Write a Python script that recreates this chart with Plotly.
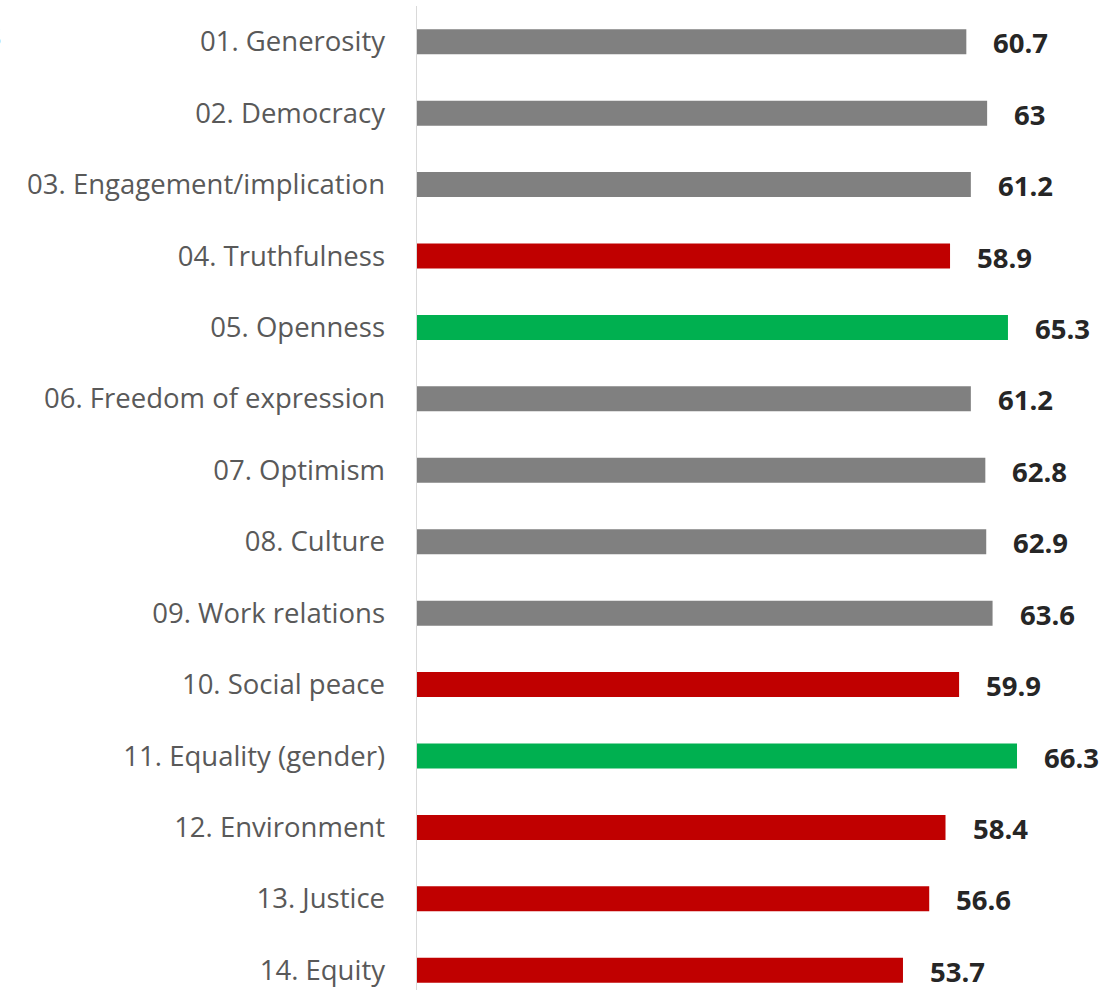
import plotly.graph_objects as go

categories = [
    "01. Generosity", "02. Democracy", "03. Engagement/implication",
    "04. Truthfulness", "05. Openness", "06. Freedom of expression",
    "07. Optimism", "08. Culture", "09. Work relations", "10. Social peace",
    "11. Equality (gender)", "12. Environment", "13. Justice", "14. Equity",
]
values = [60.7, 63, 61.2, 58.9, 65.3, 61.2, 62.8, 62.9, 63.6, 59.9, 66.3, 58.4, 56.6, 53.7]
status = ["mid", "mid", "mid", "low", "high", "mid", "mid", "mid", "mid", "low",
          "high", "low", "low", "low"]

color_map = {"mid": "#808080", "low": "#C00000", "high": "#00B050"}
colors = [color_map[s] for s in status]

FONT = "Open Sans"

fig = go.Figure()
fig.add_trace(go.Bar(
    x=values, y=categories, orientation="h",
    marker=dict(color=colors, line=dict(width=0)),
    width=0.35, hoverinfo="skip",
))

for c, v in zip(categories, values):
    fig.add_annotation(
        x=v, y=c, xref="x", yref="y",
        text=f"<b>{v:g}</b>", showarrow=False,
        xanchor="left", yanchor="middle", xshift=25, yshift=-1,
        font=dict(family=FONT, size=27.5, color="#262626"),
    )

# cut-off text fragment at the top-left edge
fig.add_annotation(
    x=-0.5895, y=0.9695, xref="paper", yref="paper",
    text="S", showarrow=False, xanchor="right", yanchor="middle",
    font=dict(family=FONT, size=26, color="#404040"),
)

fig.update_layout(
    width=1119, height=990,
    margin=dict(l=417, r=0, t=6, b=0, pad=0),
    paper_bgcolor="white", plot_bgcolor="white",
    showlegend=False,
    bargap=0.65,
)
fig.update_xaxes(
    range=[0, 77.57], showgrid=False, zeroline=False,
    showticklabels=False, ticks="", showline=False,
)
fig.update_yaxes(
    type="category", categoryorder="array", categoryarray=categories,
    range=[13.276, -0.5], showgrid=False, zeroline=False,
    showline=True, linecolor="#D9D9D9", linewidth=1.5,
    ticks="", ticklabelstandoff=25,
    tickfont=dict(family=FONT, size=27.5, color="#595959"),
)

fig.write_html(
    "out.html",
    config={"displayModeBar": False, "staticPlot": True},
    post_script="document.body.style.margin='0';document.body.style.overflow='hidden';",
)
